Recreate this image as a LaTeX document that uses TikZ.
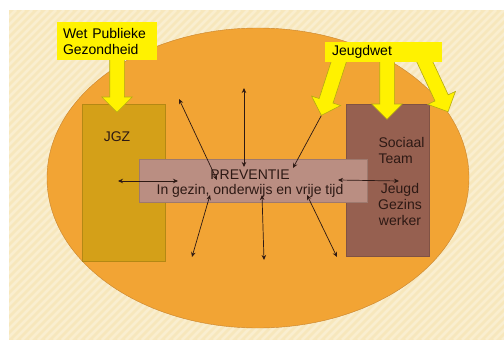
\documentclass[tikz,border=0pt]{standalone}
\usepackage{fontspec}
\setmainfont{Liberation Sans}
\usetikzlibrary{shapes.geometric,shapes.arrows,arrows.meta}

\definecolor{cream}{RGB}{247,231,188}
\definecolor{fieldfill}{RGB}{242,164,52}
\definecolor{fieldline}{RGB}{200,132,45}
\definecolor{jgzfill}{RGB}{212,160,24}
\definecolor{teamfill}{RGB}{150,96,80}
\definecolor{prevfill}{RGB}{186,142,130}
\definecolor{lawline}{RGB}{180,170,20}
\definecolor{ink}{RGB}{45,25,20}

\tikzset{
  field/.style={ellipse, draw=fieldline, fill=fieldfill, inner sep=0pt,
    minimum width=422pt, minimum height=300pt},
  box/.style={rectangle, draw=#1!85!black, fill=#1, minimum width=83pt},
  prevbox/.style={rectangle, draw=prevfill!85!black, fill=prevfill,
    minimum width=228pt, minimum height=43pt},
  law/.style={rectangle, fill=yellow, inner sep=0pt, align=left},
  lawarrow/.style={single arrow, draw=lawline, fill=yellow, line width=0.6pt,
    inner xsep=4pt, inner ysep=7pt, single arrow head extend=8pt,
    single arrow tip angle=90, anchor=tail},
  link/.style={ink, line width=0.7pt, >={Stealth[length=5pt,width=4.5pt]}}
}

\begin{document}
\begin{tikzpicture}[x=1pt,y=-1pt,font=\fontsize{14pt}{16pt}\selectfont]
  \useasboundingbox (0,0) rectangle (504,340);

  % background
  \fill[cream] (9,10) rectangle (504,340);
  \begin{scope}
    \clip (9,10) rectangle (504,340);
    \foreach \s in {-330,-322,...,504}
      \draw[white,opacity=0.3,line width=2.5pt] (\s,340) -- +(330,-330);
  \end{scope}

  \node[field] (field) at (258,178) {};

  % the three areas
  \node[box=jgzfill, minimum height=157pt] (jgz)  at (123.5,182.5) {};
  \node[box=teamfill, minimum height=152pt] (team) at (387.5,180) {};
  \node[prevbox] (prev) at (253,180.5) {};

  \node[ink] (jgztext) at (117,137) {JGZ};
  \node[ink, anchor=west, align=left] (teamtext) at (375,150) {Sociaal\\Team};
  \node[ink, align=center] (gezinstext) at (400,204) {Jeugd\\Gezins\\werker};
  \node[ink, align=center, font=\fontsize{14pt}{15pt}\selectfont] (prevtext) at (250,183.5)
    {PREVENTIE\\In gezin, onderwijs en vrije tijd};

  % laws
  \node[lawarrow, minimum height=54pt, rotate=-90]  (wpgarrow) at (117,58) {};
  \node[lawarrow, minimum height=60pt, rotate=-108] (jwleft)   at (340,58) {};
  \node[lawarrow, minimum height=61pt, rotate=-90]  (jwmid)    at (387,58) {};
  \node[lawarrow, minimum height=59pt, rotate=-65]  (jwright)  at (423,58) {};

  \node[law, minimum width=100pt, minimum height=38pt, text width=88pt] (wpg) at (107,41)
    {Wet Publieke\\Gezondheid};
  \node[law, minimum width=117pt, minimum height=20pt, text width=103pt] (jw) at (383.5,52)
    {Jeugdwet};

  % connections
  \coordinate (p1) at (217,180); \coordinate (q1) at (179,99);
  \coordinate (p2) at (244,167); \coordinate (q2) at (244,88);
  \coordinate (p3) at (293,168);
  \coordinate (p4) at (178,181); \coordinate (q4) at (118,181);
  \coordinate (p5) at (338,180); \coordinate (q5) at (399,181);
  \coordinate (p6) at (210,195); \coordinate (q6) at (192,257);
  \coordinate (p7) at (262,195); \coordinate (q7) at (264,260);
  \coordinate (p8) at (307,195); \coordinate (q8) at (337,257);

  \draw[link,<->] (p1) -- (q1);
  \draw[link,<->] (p2) -- (q2);
  \draw[link,->]  (jwleft.tip) -- (p3);
  \draw[link,<->] (p4) -- (q4);
  \draw[link,<->] (p5) -- (q5);
  \draw[link,<->] (p6) -- (q6);
  \draw[link,<->] (p7) -- (q7);
  \draw[link,<->] (p8) -- (q8);
\end{tikzpicture}
\end{document}
